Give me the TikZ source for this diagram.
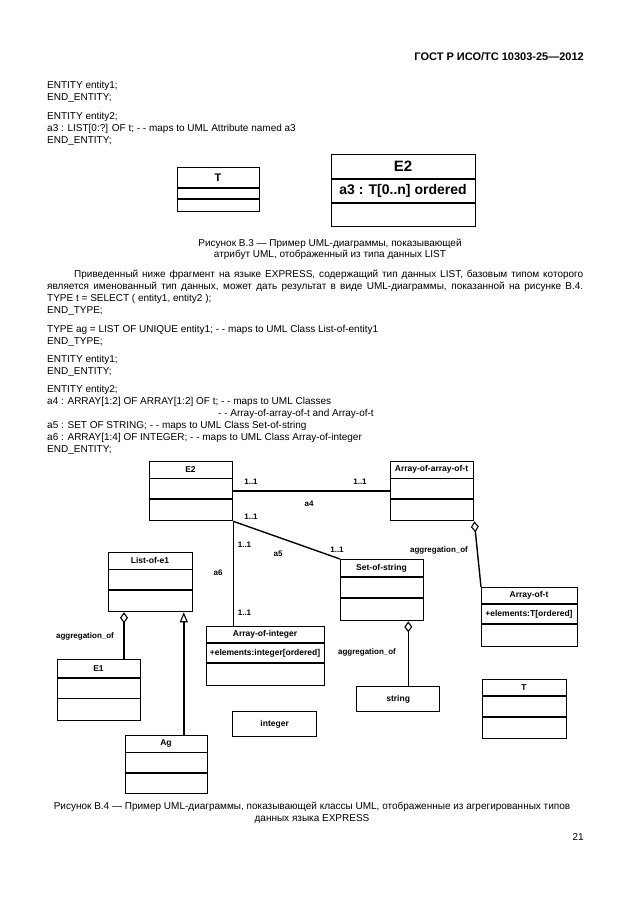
\documentclass[tikz,border=0pt]{standalone}
\usepackage{fontspec}
\setmainfont{Liberation Sans}
\usetikzlibrary{arrows.meta,calc}
\newcommand{\umlcls}[8]{%
  \node[cls, minimum width={(#4-#2)*1pt}, minimum height={(#5-#3)*1pt}] (#1) at (#2,#3) {};
  \draw[sepline] (#2,#6) -- (#4,#6);
  \draw[sepline] (#2,#7) -- (#4,#7);
  \node[ttl] (#1-t) at ({(#2+#4)/2},{(#3+#6)/2}) {#8};
}
\tikzset{
  cls/.style={draw, line width=1.3pt, inner sep=0pt, anchor=north west},
  sepline/.style={line width=1.3pt},
  ttl/.style={font=\fontsize{8.5}{9}\selectfont\bfseries, inner sep=0pt},
  attr/.style={font=\fontsize{8.5}{9}\selectfont\bfseries, inner sep=0pt},
  lbl/.style={font=\fontsize{8}{9}\selectfont\bfseries, inner sep=0pt},
  txt/.style={font=\fontsize{10}{12}\selectfont, inner sep=0pt, anchor=base west},
  captext/.style={font=\fontsize{10}{12}\selectfont, inner sep=0pt, anchor=base},
  conn/.style={line width=1.4pt},
  aggr/.style={conn, -{Diamond[open, length=11pt, width=8pt, line width=1.1pt]}},
  gen/.style={conn, -{Triangle[open, length=10pt, width=8pt, line width=1.1pt]}},
}
\begin{document}
\begin{tikzpicture}[x=1pt,y=-1pt]
\fill[white] (0,0) rectangle (630,913);
\useasboundingbox (0,0) rectangle (630,913);

% header
\node[font=\fontsize{11}{13}\selectfont\bfseries, inner sep=0pt, anchor=base east] (hdr) at (584,60) {ГОСТ Р ИСО/ТС 10303-25—2012};

% top code
\node[txt] (c1) at (47,88.5) {ENTITY entity1;};
\node[txt] (c2) at (47,100.5) {END\_ENTITY;};
\node[txt] (c3) at (47,119.5) {ENTITY entity2;};
\node[txt] (c4) at (47,131.5) {a3 : LIST[0:?] OF t; - - maps to UML Attribute named a3};
\node[txt] (c5) at (47,143.5) {END\_ENTITY;};

% figure B.3
\node[cls, minimum width=82pt, minimum height=44pt] (tt) at (177,167) {};
\draw[sepline] (177,188) -- (259,188);
\draw[sepline] (177,199) -- (259,199);
\node[font=\fontsize{11}{12}\selectfont\bfseries, inner sep=0pt] (tt-t) at (218,177.5) {T};

\node[cls, minimum width=144pt, minimum height=72pt] (ee) at (331,154) {};
\draw[sepline] (331,179) -- (475,179);
\draw[sepline] (331,203) -- (475,203);
\node[font=\fontsize{15}{16}\selectfont\bfseries, inner sep=0pt] (ee-t) at (403,166.5) {E2};
\node[font=\fontsize{14}{15}\selectfont\bfseries, inner sep=0pt] (ee-a) at (403,191) {a3 : T[0..n] ordered};

\node[captext] (cap1) at (330,246.5) {Рисунок В.3 — Пример UML-диаграммы, показывающей};
\node[captext] (cap2) at (330,257.5) {атрибут UML, отображенный из типа данных LIST};

% paragraph
\node[txt] (p1) at (74,277.5) {\makebox[509pt][s]{Приведенный ниже фрагмент на языке EXPRESS, содержащий тип данных LIST, базовым типом которого}};
\node[txt] (p2) at (47,289.5) {\makebox[536pt][s]{является именованный тип данных, может дать результат в виде UML-диаграммы, показанной на рисунке В.4.}};
\node[txt] (p3) at (47,301.5) {TYPE t = SELECT ( entity1, entity2 );};
\node[txt] (p4) at (47,313.5) {END\_TYPE;};
\node[txt] (p5) at (47,332.5) {TYPE ag = LIST OF UNIQUE entity1; - - maps to UML Class List-of-entity1};
\node[txt] (p6) at (47,344.5) {END\_TYPE;};
\node[txt] (p7) at (47,362.5) {ENTITY entity1;};
\node[txt] (p8) at (47,374.5) {END\_ENTITY;};
\node[txt] (p9) at (47,392.5) {ENTITY entity2;};
\node[txt] (p10) at (47,404.5) {a4 : ARRAY[1:2] OF ARRAY[1:2] OF t; - - maps to UML Classes};
\node[txt] (p11) at (218,416.5) {- - Array-of-array-of-t and Array-of-t};
\node[txt] (p12) at (47,428.5) {a5 : SET OF STRING; - - maps to UML Class Set-of-string};
\node[txt] (p13) at (47,440.5) {a6 : ARRAY[1:4] OF INTEGER; - - maps to UML Class Array-of-integer};
\node[txt] (p14) at (47,452.5) {END\_ENTITY;};

% figure B.4 classes
\umlcls{e2}{149}{461}{232}{520}{478.5}{499}{E2}
\umlcls{aoa}{390}{461}{473}{520}{478.5}{499}{Array-of-array-of-t}
\umlcls{loe}{108}{552}{192}{611}{569.5}{590}{List-of-e1}
\umlcls{sos}{340}{559}{423}{620}{577}{598}{Set-of-string}
\umlcls{aot}{481}{587}{577}{646}{604}{624}{Array-of-t}
\node[attr] (aot-a) at (529,614) {+elements:T[ordered]};
\umlcls{aoi}{206}{626}{324}{685}{643}{663}{Array-of-integer}
\node[attr] (aoi-a) at (265,653) {+elements:integer[ordered]};
\umlcls{e1}{57}{659}{140}{719.5}{678}{698.5}{E1}
\umlcls{tb}{482}{679}{566}{738}{696}{717}{T}
\umlcls{ag}{125}{735}{207}{793}{752.5}{773}{Ag}
\node[cls, minimum width=83pt, minimum height=25pt] (str) at (356,686) {};
\node[ttl] (str-t) at (str.center) {string};
\node[cls, minimum width=84pt, minimum height=25pt] (int) at (232,711) {};
\node[ttl] (int-t) at (int.center) {integer};

% connectors
\draw[conn] (e2.east) -- (aoa.west);
\draw[conn] (e2.south east) -- (sos.north west);
\draw[conn] (e2.south east) -- (e2.south east |- aoi.north);
\draw[aggr] (aot.north west) -- (aoa.south east);
\coordinate (d1) at ($(loe.south west)+(16,0)$);
\draw[aggr] (d1 |- e1.north) -- (d1);
\coordinate (g1) at ($(loe.south east)+(-9.5,0)$);
\draw[gen] (g1 |- ag.north) -- (g1);
\coordinate (d2) at ($(sos.south east)+(-16,0)$);
\draw[aggr] (d2 |- str.north) -- (d2);

% labels
\node[lbl] (m1) at (251,481.5) {1..1};
\node[lbl] (m2) at (360,481.5) {1..1};
\node[lbl] (la4) at (309,504) {a4};
\node[lbl] (m3) at (251,516.5) {1..1};
\node[lbl] (m4) at (244.5,545) {1..1};
\node[lbl] (la5) at (278,554) {a5};
\node[lbl] (m5) at (337,550) {1..1};
\node[lbl] (la6) at (218,573) {a6};
\node[lbl] (m6) at (244.5,613) {1..1};
\node[lbl] (ag1) at (439,550) {aggregation\_of};
\node[lbl] (ag2) at (85,636.5) {aggregation\_of};
\node[lbl] (ag3) at (367,652.5) {aggregation\_of};

% caption B.4
\node[captext] (cap3) at (312,809) {Рисунок В.4 — Пример UML-диаграммы, показывающей классы UML, отображенные из агрегированных типов};
\node[captext] (cap4) at (312,821) {данных языка EXPRESS};
\node[font=\fontsize{10}{12}\selectfont, inner sep=0pt, anchor=base east] (pg) at (584,840) {21};
\end{tikzpicture}
\end{document}
